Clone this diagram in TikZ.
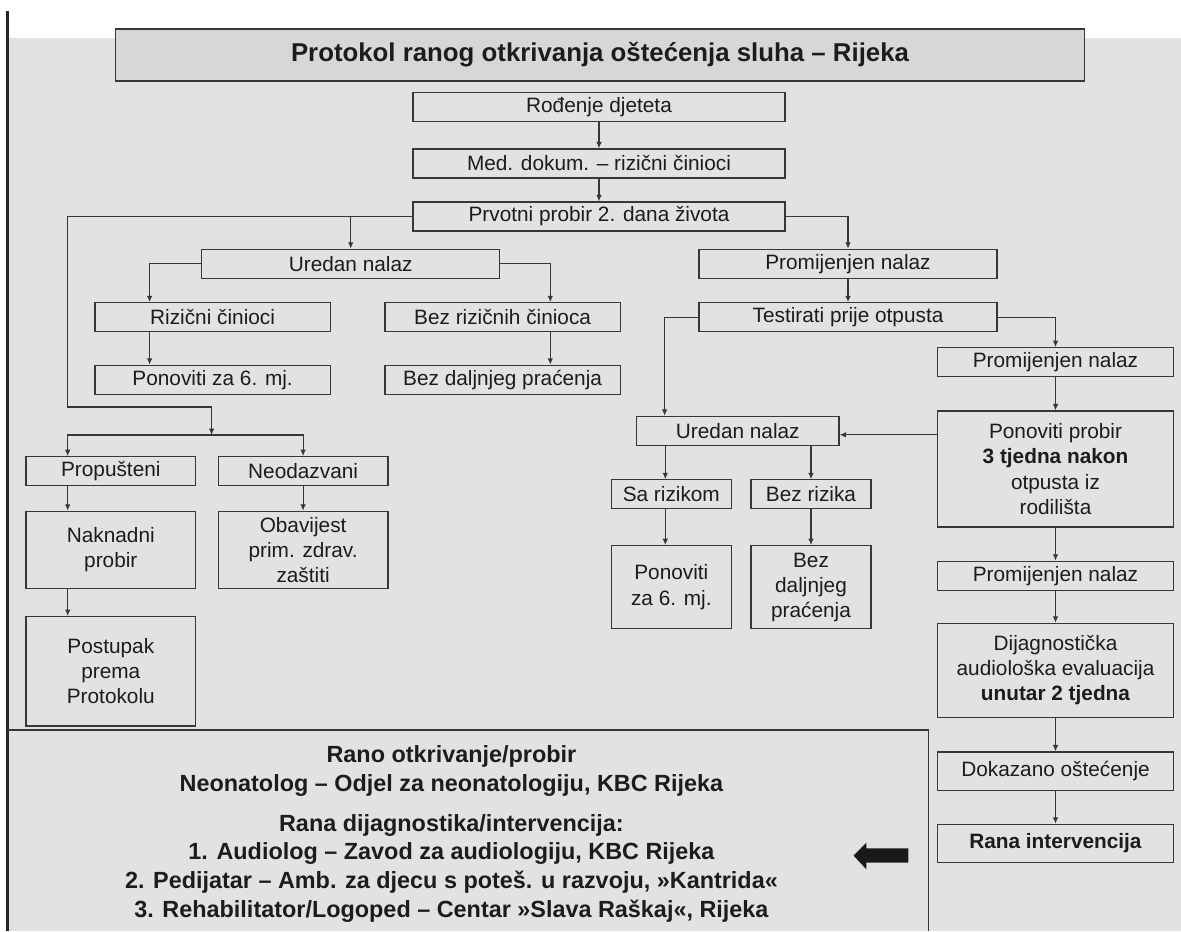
\documentclass[tikz,border=0pt]{standalone}
\usepackage{fontspec}
\setmainfont{Liberation Sans}
\usetikzlibrary{arrows.meta}
\definecolor{bggray}{RGB}{226,226,226}
\definecolor{titlegray}{RGB}{214,215,217}
\definecolor{linegray}{RGB}{55,55,55}
\definecolor{textgray}{RGB}{28,28,28}
\begin{document}
\begin{tikzpicture}[x=0.5pt,y=-0.5pt,
    box/.style={draw=linegray, line width=0.65pt, inner sep=0pt, align=center,
        minimum height=14.5pt, text=textgray, font=\fontsize{10.4}{12.6}\selectfont},
    arr/.style={draw=linegray, line width=0.55pt, -{Latex[length=3.2pt,width=2.8pt]}},
    panel/.style={draw=linegray, line width=0.7pt}]
            \def\xc{599}
            \def\xu{350.7}
            \def\xp{848}
            \def\xr{1055.5}
            \def\xrl{212.6}
            \def\xrr{502.6}
            \def\xbl{110.8}
            \def\xbr{303.1}
            \def\xsl{671.3}
            \def\xsr{811}
            \def\xub{737.8}
            \def\xloop{67.7}

            \def\ya{107.3}
            \def\yb{163.5}
            \def\yc{216.5}
            \def\yd{263.8}
            \def\ye{317.3}
            \def\yf{379.8}

            \useasboundingbox (0,0) rectangle (1181,931);
            \fill[bggray] (9,38) rectangle (1181,931);
            \draw[line width=1.3pt, black!85] (7.7,11) -- (7.7,931);

            \node[box, minimum width=484.5pt, minimum height=26pt, fill=titlegray, line width=0.8pt,
                font=\bfseries\fontsize{12.9}{15}\selectfont] (title) at (600,55)
                {Protokol ranog otkrivanja oštećenja sluha – Rijeka};

            \node[box, minimum width=186pt] (rodjenje) at (\xc,\ya) {Rođenje djeteta};
            \node[box, minimum width=186pt] (meddok) at (\xc,\yb) {Med. dokum. – rizični činioci};
            \node[box, minimum width=186pt] (prvotni) at (\xc,\yc) {Prvotni probir 2. dana života};

            \node[box, minimum width=149pt] (uredanA) at (\xu,\yd) {Uredan nalaz};
            \node[box, minimum width=149pt] (promA) at (\xp,\yd) {Promijenjen nalaz};

            \node[box, minimum width=117.7pt] (rizicni) at (\xrl,\ye) {Rizični činioci};
            \node[box, minimum width=117.7pt] (bezriz) at (\xrr,\ye) {Bez rizičnih činioca};
            \node[box, minimum width=149pt] (testirati) at (\xp,\ye) {Testirati prije otpusta};
            \node[box, minimum width=117.7pt] (ponA) at (\xrl,\yf) {Ponoviti za 6. mj.};
            \node[box, minimum width=117.7pt] (bezdA) at (\xrr,\yf) {Bez daljnjeg praćenja};

            \node[box, minimum width=117.7pt] (promB) at (\xr,362.2) {Promijenjen nalaz};
            \node[box, minimum width=117.7pt, minimum height=58pt] (ponprobir) at (\xr,469)
                {Ponoviti probir\\\textbf{3 tjedna nakon}\\otpusta iz\\rodilišta};
            \node[box, minimum width=101.2pt] (uredanB) at (\xub,430.8) {Uredan nalaz};
            \node[box, minimum width=60pt] (sarizikom) at (\xsl,494.3) {Sa rizikom};
            \node[box, minimum width=60pt] (bezrizika) at (\xsr,494.3) {Bez rizika};
            \node[box, minimum width=60pt, minimum height=41.5pt] (ponB) at (\xsl,587.2) {Ponoviti\\za 6. mj.};
            \node[box, minimum width=60pt, minimum height=41.5pt] (bezdB) at (\xsr,587.2) {Bez\\daljnjeg\\praćenja};
            \node[box, minimum width=117.7pt] (promC) at (\xr,575.8) {Promijenjen nalaz};
            \node[box, minimum width=117.7pt, minimum height=47pt] (dijag) at (\xr,670.3)
                {Dijagnostička\\audiološka evaluacija\\\textbf{unutar 2 tjedna}};
            \node[box, minimum width=117.7pt, minimum height=19.2pt] (dokazano) at (\xr,771.2) {Dokazano oštećenje};
            \node[box, minimum width=117.7pt, minimum height=19.2pt] (rana) at (\xr,843.5) {\textbf{Rana intervencija}};

            \node[box, minimum width=84.8pt] (propusteni) at (\xbl,471.2) {Propušteni};
            \node[box, minimum width=84.8pt] (neodazvani) at (\xbr,471.2) {Neodazvani};
            \node[box, minimum width=84.8pt, minimum height=38.7pt] (naknadni) at (\xbl,550) {Naknadni\\probir};
            \node[box, minimum width=84.8pt, minimum height=38.7pt] (obavijest) at (\xbr,550) {Obavijest\\prim. zdrav.\\zaštiti};
            \node[box, minimum width=84.8pt, minimum height=54.7pt] (postupak) at (\xbl,671.3) {Postupak\\prema\\Protokolu};

            \coordinate (loopturn) at (\xloop,407);
            \coordinate (split) at (211.6,435);

            \draw[arr] (rodjenje) -- (meddok);
            \draw[arr] (meddok) -- (prvotni);
            \draw[arr] (prvotni.west) -| (loopturn) -| (split);
            \draw[arr] (split) -| (propusteni.north -| loopturn);
            \draw[arr] (split) -| (neodazvani.north);
            \draw[arr] (uredanA.north |- prvotni.west) -- (uredanA.north);
            \draw[arr] (prvotni.east) -| (promA.north);
            \draw[arr] (uredanA.west) -| ([xshift=-31.5pt]rizicni.north);
            \draw[arr] (uredanA.east) -| ([xshift=23.85pt]bezriz.north);
            \draw[arr] ([xshift=-31.5pt]rizicni.south) -- ([xshift=-31.5pt]ponA.north);
            \draw[arr] ([xshift=23.85pt]bezriz.south) -- ([xshift=23.85pt]bezdA.north);
            \draw[arr] (promA) -- (testirati);
            \draw[arr] (testirati.west) -| ([xshift=-36.6pt]uredanB.north);
            \draw[arr] (testirati.east) -| (promB.north);
            \draw[arr] (promB) -- (ponprobir);
            \draw[arr] ([yshift=-2pt]ponprobir.west |- uredanB.east) -- ([yshift=-2pt]uredanB.east);
            \draw[arr] ([xshift=-3pt]sarizikom.north |- uredanB.south) -- ([xshift=-3pt]sarizikom.north);
            \draw[arr] (bezrizika.north |- uredanB.south) -- (bezrizika.north);
            \draw[arr] ([xshift=-3pt]sarizikom.south) -- ([xshift=-3pt]ponB.north);
            \draw[arr] (bezrizika) -- (bezdB);
            \draw[arr] (ponprobir) -- (promC);
            \draw[arr] (promC) -- (dijag);
            \draw[arr] (dijag) -- (dokazano);
            \draw[arr] (dokazano) -- (rana);
            \draw[arr] (propusteni.south -| loopturn) -- (naknadni.north -| loopturn);
            \draw[arr] (naknadni.south -| loopturn) -- (postupak.north -| loopturn);
            \draw[arr] (neodazvani) -- (obavijest);

            \draw[panel] (8,730) -- (928.3,730) -- (928.3,931);
            \node[align=center, inner sep=0pt, text=textgray,
                font=\bfseries\fontsize{11.7}{14.4}\selectfont] (legend) at (451.4,834)
                {Rano otkrivanje/probir\\Neonatolog – Odjel za neonatologiju, KBC Rijeka\\[5.5pt]
                Rana dijagnostika/intervencija:\\1. Audiolog – Zavod za audiologiju, KBC Rijeka\\
                2. Pedijatar – Amb. za djecu s poteš. u razvoju, »Kantrida«\\
                3. Rehabilitator/Logoped – Centar »Slava Raškaj«, Rijeka};
            \fill[black!90] (908.4,848.3) -- (866.3,848.3) -- (866.3,842.7) -- (853.6,855.6)
                -- (866.3,869.3) -- (866.3,862.7) -- (908.4,862.7) -- cycle;

        \end{tikzpicture}
\end{document}
